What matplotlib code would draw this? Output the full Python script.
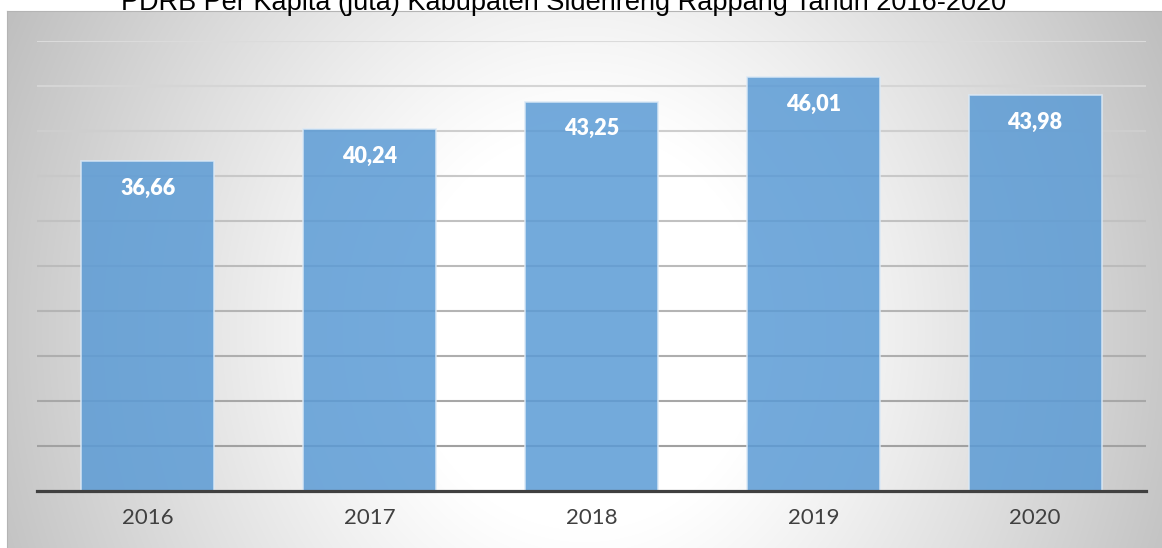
import numpy as np
import matplotlib
matplotlib.use("Agg")
import matplotlib.pyplot as plt

years = ["2016", "2017", "2018", "2019", "2020"]
pdrb = [36.66, 40.24, 43.25, 46.01, 43.98]
title = "PDRB Per Kapita (juta) Kabupaten Sidenreng Rappang Tahun 2016-2020"

W, H = 1162, 548
fig = plt.figure(figsize=(W / 100, H / 100), dpi=100)
fig.patch.set_facecolor("white")

# background box with radial grey gradient
bx0, by0 = 7, 11
bg = fig.add_axes([bx0 / W, 0, 1 - bx0 / W, 1 - by0 / H], zorder=0)
xx, yy = np.meshgrid(np.arange(bx0, W), np.arange(by0, H))
r = np.hypot(xx - 584, (yy - 330) * 0.9)
t = np.clip((r - 180) / (640 - 180), 0, 1) ** 1.1
shade = 1 - t * 0.25
bg.imshow(np.dstack([shade, shade, shade]), aspect="auto", extent=[0, 1, 0, 1])
bg.set_xlim(0, 1)
bg.set_ylim(0, 1)
for s in bg.spines.values():
    s.set_visible(False)
bg.spines["left"].set_visible(True)
bg.spines["top"].set_visible(True)
bg.spines["left"].set_color("#b4b4b4")
bg.spines["top"].set_color("#b4b4b4")
bg.set_xticks([])
bg.set_yticks([])

# main chart
ax = fig.add_axes([37 / W, (H - 491) / H, (1146 - 37) / W, (491 - 41) / H], zorder=1)
ax.set_facecolor("none")
x = np.arange(len(years))
ax.bar(x, pdrb, width=0.6, color="#5B9BD5", alpha=0.85,
       edgecolor="#dbe9f6", linewidth=1.2, zorder=2)

ax.set_xlim(-0.5, len(years) - 0.5)
ax.set_ylim(0, 50)
ax.set_yticks(np.arange(5, 51, 5))
ax.yaxis.grid(True, linewidth=1.5, zorder=1)
ax.set_axisbelow(True)
glines = ax.get_ygridlines()
for i, gl in enumerate(glines):
    c = 0.63 + (0.86 - 0.63) * i / (len(glines) - 1)
    gl.set_color((c, c, c))

ax.set_xticks(x)
ax.set_xticklabels(years, fontsize=16, color="#404040", family="Lato")
ax.tick_params(axis="x", length=0, pad=12)
ax.tick_params(axis="y", length=0, labelleft=False)

for s in ["left", "right", "top"]:
    ax.spines[s].set_visible(False)
ax.spines["bottom"].set_color("#404040")
ax.spines["bottom"].set_linewidth(2.3)
ax.spines["bottom"].set_zorder(3)

for i, v in enumerate(pdrb):
    ax.annotate(f"{v:.2f}".replace(".", ","), (i, v), xytext=(0, -19.5),
                textcoords="offset points", ha="center", va="center",
                fontsize=15.5, fontweight="heavy", color="white",
                family="Lato", zorder=4)

fig.text(564 / W, 1 - 10 / H, title, ha="center", va="baseline",
         fontsize=19.5, family="Liberation Sans", color="#000000", zorder=5)

fig.savefig("out.png", dpi=100)
